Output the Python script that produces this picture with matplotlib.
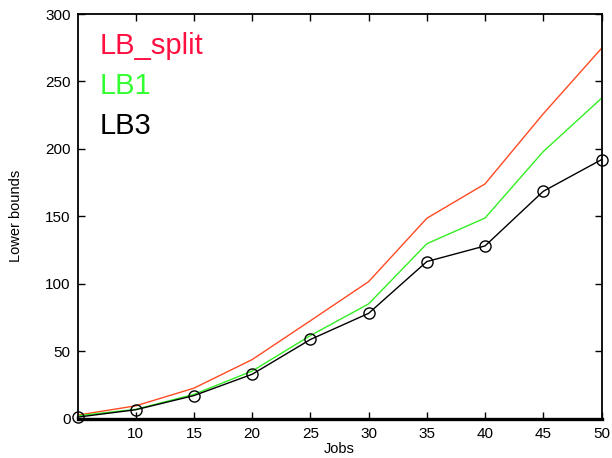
import matplotlib
matplotlib.use("Agg")
import matplotlib.pyplot as plt

plt.rcParams['font.family'] = ['Liberation Sans', 'DejaVu Sans']

jobs = [5, 10, 15, 20, 25, 30, 35, 40, 45, 50]
lb_split = [2.5, 9.4, 22.5, 43.7, 72.5, 101.5, 148.5, 174, 226, 274.5]
lb1 = [2, 6.8, 17.9, 35.2, 61.5, 85, 129.6, 148.7, 198, 237.5]
lb3 = [1, 6.5, 17, 32.8, 58.6, 78, 116.4, 128, 168.5, 192]
series_names = ["LB_split", "LB1", "LB3"]
line_colors = ["#ff4a22", "#33ee22", "#000000"]
text_colors = ["#ff1040", "#33ff33", "#000000"]
x_ticks = [10, 15, 20, 25, 30, 35, 40, 45, 50]
y_ticks = [0, 50, 100, 150, 200, 250, 300]

fig = plt.figure(figsize=(6.12, 4.58), dpi=100)
ax = fig.add_axes([77.5/612, 1 - 418.5/458, (601.5-77.5)/612, (418.5-14)/458])

ax.plot(jobs, lb_split, color=line_colors[0], lw=1.0, label=series_names[0])
ax.plot(jobs, lb1, color=line_colors[1], lw=1.0, label=series_names[1])
ax.plot(jobs, lb3, color=line_colors[2], lw=1.0, marker='o', markersize=8,
        markerfacecolor='none', markeredgecolor='black', markeredgewidth=1.0,
        label=series_names[2], clip_on=False)

ax.set_xlim(5, 50)
ax.set_ylim(0, 300)
ax.set_xticks(x_ticks)
ax.set_yticks(y_ticks)
ax.tick_params(direction='in', length=5, width=1, top=True, right=True,
               labelsize=11)
ax.tick_params(axis='x', pad=6)
ax.tick_params(axis='y', pad=5)
for s in ['left', 'right', 'top']:
    ax.spines[s].set_linewidth(1.3)
ax.spines['bottom'].set_linewidth(2.4)

ax.set_xlabel("Jobs", fontsize=10.5, labelpad=1)
ax.set_ylabel("Lower bounds", fontsize=10.5, labelpad=16)

leg = ax.legend(loc='upper left', frameon=False, handlelength=0, handletextpad=0,
                fontsize=21, labelspacing=0.42, borderaxespad=0.0,
                bbox_to_anchor=(0.02, 0.985))
for h in leg.legend_handles:
    h.set_visible(False)
for t, c in zip(leg.get_texts(), text_colors):
    t.set_color(c)

fig.savefig("out.png", dpi=100)
